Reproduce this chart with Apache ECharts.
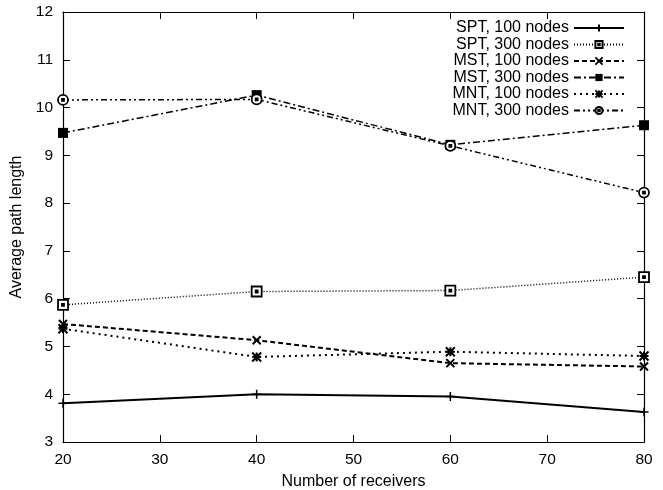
<!DOCTYPE html>
<html><head><meta charset="utf-8">
<script src="https://cdn.jsdelivr.net/npm/echarts@6/dist/echarts.min.js"></script>
<style>html,body{margin:0;padding:0;background:#fff}#c{width:663px;height:490px}</style>
</head><body><div id="c"></div>
<script>
const receivers = [20, 40, 60, 80];
const spt100 = [3.81, 4.0, 3.95, 3.63];
const spt300 = [5.87, 6.15, 6.17, 6.45];
const mst100 = [5.47, 5.13, 4.65, 4.58];
const mst300 = [9.47, 10.26, 9.22, 9.63];
const mnt100 = [5.37, 4.78, 4.89, 4.80];
const mnt300 = [10.16, 10.17, 9.2, 8.22];
const names = ['SPT, 100 nodes','SPT, 300 nodes','MST, 100 nodes','MST, 300 nodes','MNT, 100 nodes','MNT, 300 nodes'];
const xTicks = [20, 30, 40, 50, 60, 70, 80];
const yTicks = [3,4,5,6,7,8,9,10,11,12];

const font = 'Liberation Sans, Arial, sans-serif';
const pair = v => receivers.map((x,i)=>[x, v[i]]);
const styles = [
  {data: spt100, dash:'solid', w:2, symbol:'path://M0,5L10,5M5,0L5,10', size:9, item:{color:'#000',borderColor:'#000',borderWidth:1.5}},
  {data: spt300, dash:[1,2], w:1.5, symbol:'path://M0,0H10V10H0ZM4,4H6V6H4Z', size:10, item:{color:'#fff',borderColor:'#000',borderWidth:1.8}},
  {data: mst100, dash:[5,3], w:2, symbol:'path://M0,0L10,10M10,0L0,10', size:8, item:{color:'#000',borderColor:'#000',borderWidth:2}},
  {data: mst300, dash:[7,3,2,3], w:1.5, symbol:'rect', size:10, item:{color:'#000',borderColor:'#000',borderWidth:0}},
  {data: mnt100, dash:[2,4], w:2, symbol:'path://M0,0L10,10M10,0L0,10M5,0L5,10M0,5L10,5', size:9, item:{color:'#000',borderColor:'#000',borderWidth:2}},
  {data: mnt300, dash:[6,3,2,3,2,3], w:1.5, symbol:'path://M5,0A5,5 0 1,1 4.99,0ZM4,4H6V6H4Z', size:10, item:{color:'#fff',borderColor:'#000',borderWidth:1.8}}
];
const series = styles.map((s,i)=>({
  name: names[i], type:'line', data: pair(s.data), xAxisIndex:0, yAxisIndex:0,
  symbol: s.symbol, symbolSize: s.size, showSymbol:true, animation:false,
  lineStyle:{color:'#000', width:s.w, type:s.dash},
  itemStyle: s.item, z: 3
}));

const chart = echarts.init(document.getElementById('c'));
const axisLine = {show:true, lineStyle:{color:'#000', width:1.2}};
const ticks = {show:true, inside:true, length:7, lineStyle:{color:'#000'}};
const tickFont = {fontFamily:font, fontSize:15.5, color:'#000'};
chart.setOption({
  backgroundColor:'#fff',
  animation:false,
  grid:{left:63, right:19, top:12, bottom:48, containLabel:false, outerBoundsMode:'none'},
  legend:{
    orient:'vertical', right:38, top:20, align:'right',
    itemWidth:50, itemHeight:9, itemGap:0.5, padding:0,
    textStyle:{fontFamily:font, fontSize:16, color:'#000'},
    data: names, backgroundColor:'#fff'
  },
  xAxis:[
    {type:'value', min:20, max:80, interval:10, position:'bottom',
     name:'Number of receivers', nameLocation:'middle', nameGap:32,
     nameTextStyle:{fontFamily:font, fontSize:16, color:'#000'},
     axisLine, axisTick:ticks, splitLine:{show:false},
     axisLabel:Object.assign({margin:10}, tickFont)},
    {type:'value', min:20, max:80, interval:10, position:'top',
     axisLine, axisTick:ticks, splitLine:{show:false}, axisLabel:{show:false}}
  ],
  yAxis:[
    {type:'value', min:3, max:12, interval:1, position:'left',
     name:'Average path length', nameLocation:'middle', nameGap:37,
     nameTextStyle:{fontFamily:font, fontSize:16, color:'#000'},
     axisLine, axisTick:ticks, splitLine:{show:false},
     axisLabel:Object.assign({margin:10}, tickFont)},
    {type:'value', min:3, max:12, interval:1, position:'right',
     axisLine, axisTick:ticks, splitLine:{show:false}, axisLabel:{show:false}}
  ],
  series
});
</script></body></html>
